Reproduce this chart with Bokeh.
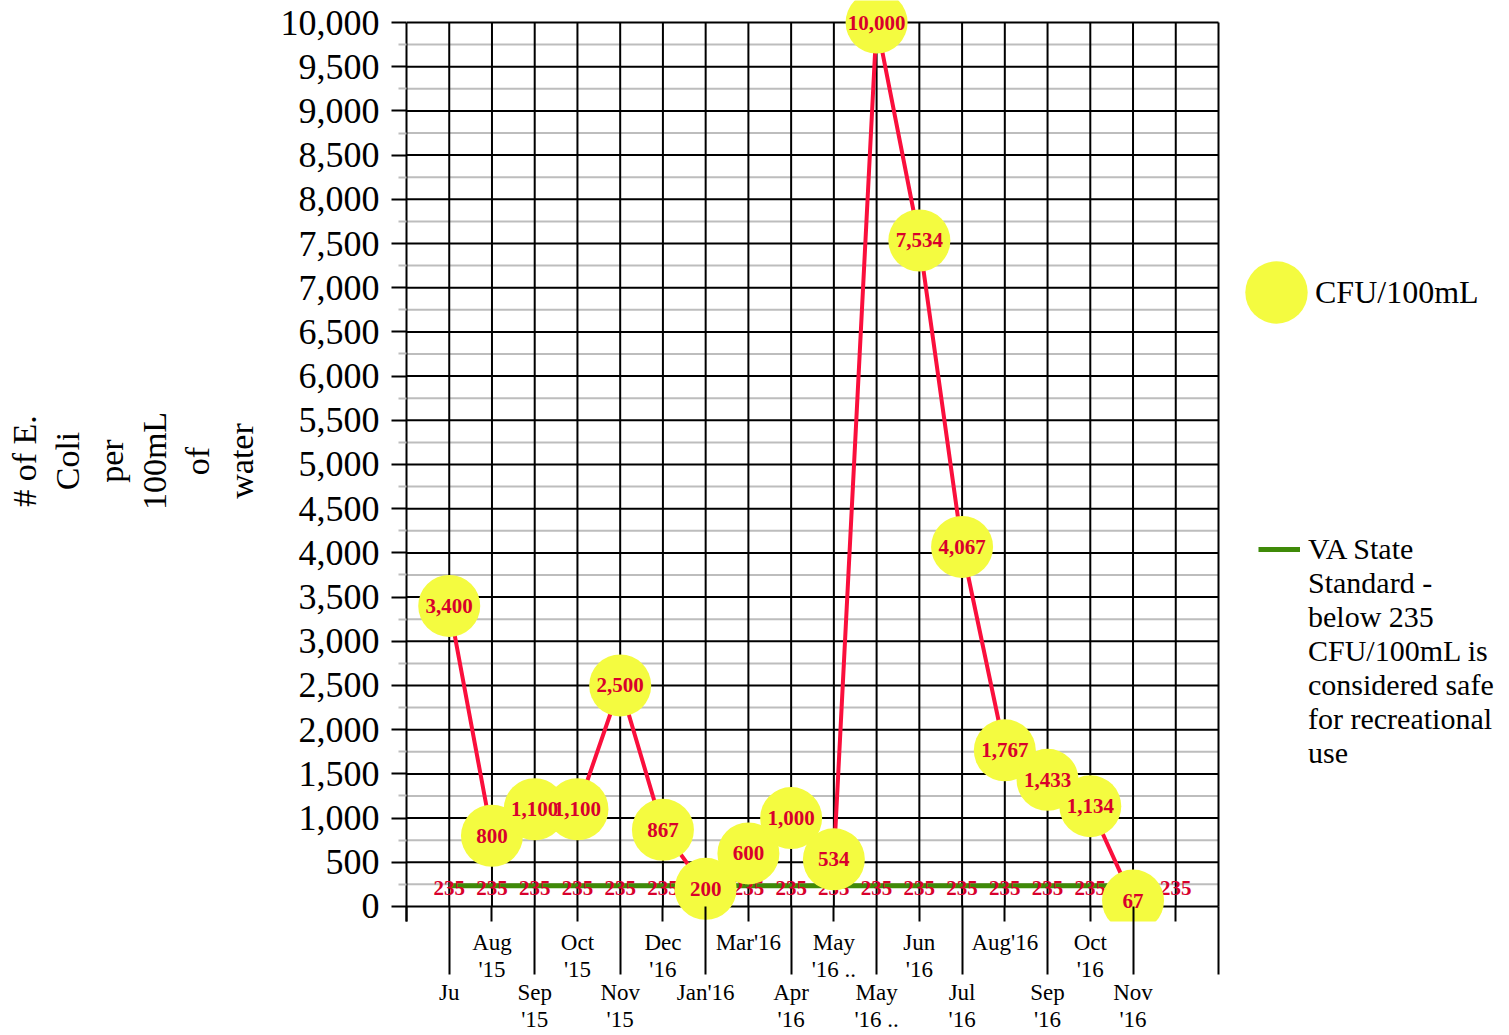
from bokeh.plotting import figure
from bokeh.models import (ColumnDataSource, Range1d, LinearAxis, FixedTicker,
                          NumeralTickFormatter, Legend, LegendItem)
from bokeh.core.properties import value
from bokeh.embed import file_html
from bokeh.resources import INLINE

# ---------------- data ----------------
months = ["Ju", "Aug\n'15", "Sep\n'15", "Oct\n'15", "Nov\n'15", "Dec\n'16",
          "Jan'16", "Mar'16", "Apr\n'16", "May\n'16 ..", "May\n'16 ..",
          "Jun\n'16", "Jul\n'16", "Aug'16", "Sep\n'16", "Oct\n'16", "Nov\n'16", ""]
cfu = [3400, 800, 1100, 1100, 2500, 867, 200, 600, 1000, 534,
       10000, 7534, 4067, 1767, 1433, 1134, 67, None]
standard = [235, 235, 235, 235, 235, 235, 235, 235, 235,
            235, 235, 235, 235, 235, 235, 235, 235, 235]
y_ticks = [0, 500, 1000, 1500, 2000, 2500, 3000, 3500, 4000, 4500, 5000,
           5500, 6000, 6500, 7000, 7500, 8000, 8500, 9000, 9500, 10000]
y_minor = [250, 750, 1250, 1750, 2250, 2750, 3250, 3750, 4250, 4750, 5250,
           5750, 6250, 6750, 7250, 7750, 8250, 8750, 9250, 9750]
legend_measure = "CFU/100mL"
legend_standard = ["VA State", "Standard -\nbelow 235\nCFU/100mL is\nconsidered safe\nfor recreational\nuse"]

FONT = "Liberation Serif"
YELLOW = "#f4fb40"
RED_LINE = "#fa0f3c"
RED_TXT = "#d8002c"
GREEN = "#3f8a08"

n = len(months)
xs = list(range(1, n + 1))
valid = [i for i, v in enumerate(cfu) if v is not None]
x_end = n + 1                      # right border of the chart pane
y_lo, y_hi = y_ticks[0], y_ticks[-1]

meas = ColumnDataSource(dict(
    x=[xs[i] for i in valid],
    y=[cfu[i] for i in valid],
    lab=[f"{cfu[i]:,}" for i in valid],
))
std_all = ColumnDataSource(dict(x=xs, y=standard, lab=[str(v) for v in standard]))
std_line_src = ColumnDataSource(dict(x=[xs[i] for i in valid], y=[standard[i] for i in valid]))

# layout geometry (pixels)
W, H = 1509, 1035
LEFT = 406
PANE_W = 812
frame_w = W - LEFT
p = figure(width=W, height=H, output_backend="svg", toolbar_location=None,
           x_range=Range1d(0, x_end * frame_w / PANE_W), y_range=Range1d(-170, 10249),
           x_axis_type=None, min_border_left=LEFT, min_border_right=0,
           min_border_top=0, min_border_bottom=0)
p.outline_line_color = None
p.background_fill_color = "white"
p.border_fill_color = "white"
p.xgrid.visible = False
p.ygrid.visible = False

# ---------- y axis ----------
yt = FixedTicker(ticks=y_ticks, minor_ticks=y_minor)
ya = p.yaxis[0]
ya.ticker = yt
ya.formatter = NumeralTickFormatter(format="0,0")
ya.bounds = (-170, y_hi)
ya.axis_line_color = "black"
ya.axis_line_width = 2
ya.major_tick_out = 15
ya.major_tick_in = 0
ya.major_tick_line_width = 2
ya.major_tick_line_color = "black"
ya.minor_tick_out = 8
ya.minor_tick_in = 0
ya.minor_tick_line_color = "#bdbdbd"
ya.minor_tick_line_width = 2
ya.major_label_text_font = FONT
ya.major_label_text_font_size = "36px"
ya.major_label_text_color = "black"
ya.major_label_standoff = 12
ya.axis_label = "# of E.\nColi\nper\n100mL\nof\nwater"
ya.axis_label_text_font = FONT
ya.axis_label_text_font_size = "34px"
ya.axis_label_text_font_style = "normal"
ya.axis_label_text_color = "black"
ya.axis_label_text_line_height = 1.17
ya.axis_label_standoff = 18

# ---------- grid lines of the pane ----------
p.segment(x0=[0] * len(y_minor), y0=y_minor, x1=[x_end] * len(y_minor), y1=y_minor,
          line_color="#bdbdbd", line_width=2)
p.segment(x0=[0] * len(y_ticks), y0=y_ticks, x1=[x_end] * len(y_ticks), y1=y_ticks,
          line_color="black", line_width=2)
gx = list(range(1, x_end + 1))
p.segment(x0=gx, y0=[y_lo] * len(gx), x1=gx, y1=[y_hi] * len(gx),
          line_color="black", line_width=2)

# ---------- x axes (two label rows) ----------
upper = {k: "" for k in range(0, x_end, 2)}
for k in range(2, n + 1, 2):
    upper[k] = months[k - 1]
ax1 = LinearAxis(ticker=FixedTicker(ticks=list(range(0, x_end, 2)),
                                    minor_ticks=list(range(1, x_end + 1, 2))),
                 major_label_overrides=upper)
ax1.axis_line_color = None
ax1.major_tick_in = 15
ax1.major_tick_out = 0
ax1.minor_tick_in = 15
ax1.minor_tick_out = 53
ax1.major_tick_line_color = "black"
ax1.minor_tick_line_color = "black"
ax1.major_tick_line_width = 2
ax1.minor_tick_line_width = 2
ax1.major_label_text_font = FONT
ax1.major_label_text_font_size = "23px"
ax1.major_label_text_color = "black"
ax1.major_label_text_line_height = 1.1
ax1.major_label_standoff = -45
p.add_layout(ax1, "below")

lower = {k: months[k - 1] for k in range(1, n + 1, 2)}
ax2 = LinearAxis(ticker=FixedTicker(ticks=list(range(1, n + 1, 2))),
                 major_label_overrides=lower)
ax2.axis_line_color = None
ax2.major_tick_in = 0
ax2.major_tick_out = 0
ax2.minor_tick_in = 0
ax2.minor_tick_out = 0
ax2.major_label_text_font = FONT
ax2.major_label_text_font_size = "23px"
ax2.major_label_text_color = "black"
ax2.major_label_text_line_height = 1.1
ax2.major_label_standoff = -6
p.add_layout(ax2, "below")

# ---------- series ----------
std_r = p.line("x", "y", source=std_line_src, line_color=GREEN, line_width=5)
p.text("x", "y", text="lab", source=std_all, text_align="center",
       text_baseline="middle", y_offset=2, text_color=RED_TXT,
       text_font=value(FONT), text_font_size="21px", text_font_style="bold")

p.line("x", "y", source=meas, line_color=RED_LINE, line_width=4)
bub = p.ellipse("x", "y", width=62, height=62, width_units="screen",
                height_units="screen", source=meas, fill_color=YELLOW,
                line_color=None)
p.text("x", "y", text="lab", source=meas, text_align="center",
       text_baseline="middle", text_color=RED_TXT,
       text_font=value(FONT), text_font_size="21px", text_font_style="bold")

# invisible renderer: carries the continuation lines of the standard's legend text
cont = p.line(x=[], y=[], line_alpha=0)

# ---------- legends ----------
leg1 = Legend(items=[LegendItem(label=legend_measure, renderers=[bub])],
              location=(831, 590), glyph_width=78, glyph_height=78,
              label_height=78, label_standoff=-7, padding=0, margin=0, spacing=0,
              border_line_color=None, background_fill_alpha=0,
              label_text_font=FONT, label_text_font_size="32px",
              label_text_color="black")
p.add_layout(leg1)

leg2 = Legend(items=[LegendItem(label=legend_standard[0], renderers=[std_r]),
                     LegendItem(label=legend_standard[1], renderers=[cont])],
              location=(852, 151), glyph_width=42, glyph_height=30,
              label_height=20, label_standoff=8, padding=0, margin=0, spacing=0,
              border_line_color=None, background_fill_alpha=0,
              label_text_font=FONT, label_text_font_size="30px",
              label_text_line_height=1.15, label_text_color="black")
p.add_layout(leg2)

open("out.html", "w").write(file_html(p, INLINE))
